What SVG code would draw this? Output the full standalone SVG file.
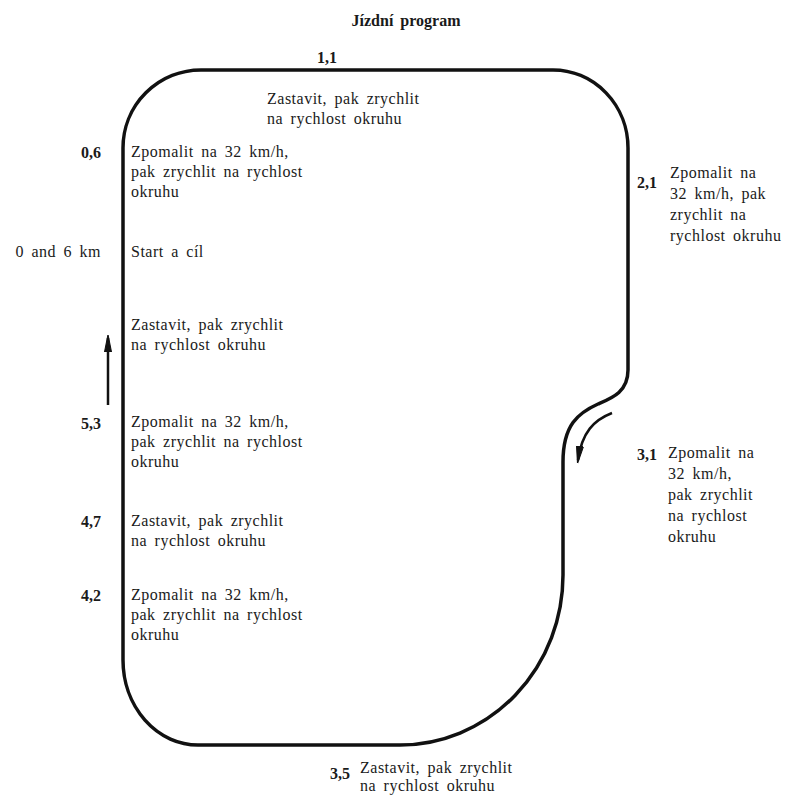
<svg xmlns="http://www.w3.org/2000/svg" width="786" height="795" viewBox="0 0 786 795">
<style>
text{font-family:"Liberation Serif","DejaVu Serif",serif;font-size:16px;fill:#1a1a1a;letter-spacing:0.5px;word-spacing:3px}
.b{font-weight:bold;letter-spacing:0}
.r{text-anchor:end}
.m{text-anchor:middle}
.track{fill:none;stroke:#111;stroke-width:3.5;stroke-linejoin:round}
.arr{fill:none;stroke:#111;stroke-width:2.5}
</style>
<defs>
<marker id="ah" viewBox="0 0 10 10" refX="8" refY="5" markerWidth="7" markerHeight="7" orient="auto-start-reverse" markerUnits="strokeWidth">
<path d="M0,3 L10,5 L0,7 Z" fill="#111" stroke="#111" stroke-width="0.6"/>
</marker>
</defs>
<rect width="786" height="795" fill="#fff"/>
<g id="title"><text class="b m" x="406" y="26">Jízdní program</text></g>
<g id="connectors">
<path id="track" class="track" d="M123,660 L123,148 A78,78 0 0 1 201,70 L553,70 A75,78 0 0 1 628,148 L628,370 C628,392 612,398 598,404 C578,413 563,425 563,462 L563,575 A163,170 0 0 1 400,745 L198,745 A75,85 0 0 1 123,660 Z"/>
<path id="arrow-left" class="arr" d="M108,405 L108,338" marker-end="url(#ah)"/>
<path id="arrow-right" class="arr" d="M612,413 C594,420 582,432 578,460" marker-end="url(#ah)"/>
</g>
<g id="n11"><text class="b m" x="327" y="63">1,1</text>
<text x="267" y="104">Zastavit, pak zrychlit</text><text x="267" y="124">na rychlost okruhu</text></g>
<g id="n06"><text class="b r" x="101" y="158">0,6</text>
<text x="131" y="157">Zpomalit na 32 km/h,</text><text x="131" y="177">pak zrychlit na rychlost</text><text x="131" y="197">okruhu</text></g>
<g id="n0"><text class="r" x="101" y="257">0 and 6 km</text><text x="131" y="257">Start a cíl</text></g>
<g id="n-stop1"><text x="131" y="330">Zastavit, pak zrychlit</text><text x="131" y="350">na rychlost okruhu</text></g>
<g id="n53"><text class="b r" x="101" y="429">5,3</text>
<text x="131" y="427">Zpomalit na 32 km/h,</text><text x="131" y="447">pak zrychlit na rychlost</text><text x="131" y="467">okruhu</text></g>
<g id="n47"><text class="b r" x="101" y="527">4,7</text>
<text x="131" y="526">Zastavit, pak zrychlit</text><text x="131" y="546">na rychlost okruhu</text></g>
<g id="n42"><text class="b r" x="101" y="601">4,2</text>
<text x="131" y="600">Zpomalit na 32 km/h,</text><text x="131" y="620">pak zrychlit na rychlost</text><text x="131" y="640">okruhu</text></g>
<g id="n21"><text class="b" x="637" y="188">2,1</text>
<text x="670" y="178">Zpomalit na</text><text x="670" y="199">32 km/h, pak</text><text x="670" y="220">zrychlit na</text><text x="670" y="241">rychlost okruhu</text></g>
<g id="n31"><text class="b" x="637" y="460">3,1</text>
<text x="668" y="458">Zpomalit na</text><text x="668" y="479">32 km/h,</text><text x="668" y="500">pak zrychlit</text><text x="668" y="521">na rychlost</text><text x="668" y="542">okruhu</text></g>
<g id="n35"><text class="b" x="330" y="779">3,5</text>
<text x="360" y="773">Zastavit, pak zrychlit</text><text x="360" y="791">na rychlost okruhu</text></g>
</svg>
